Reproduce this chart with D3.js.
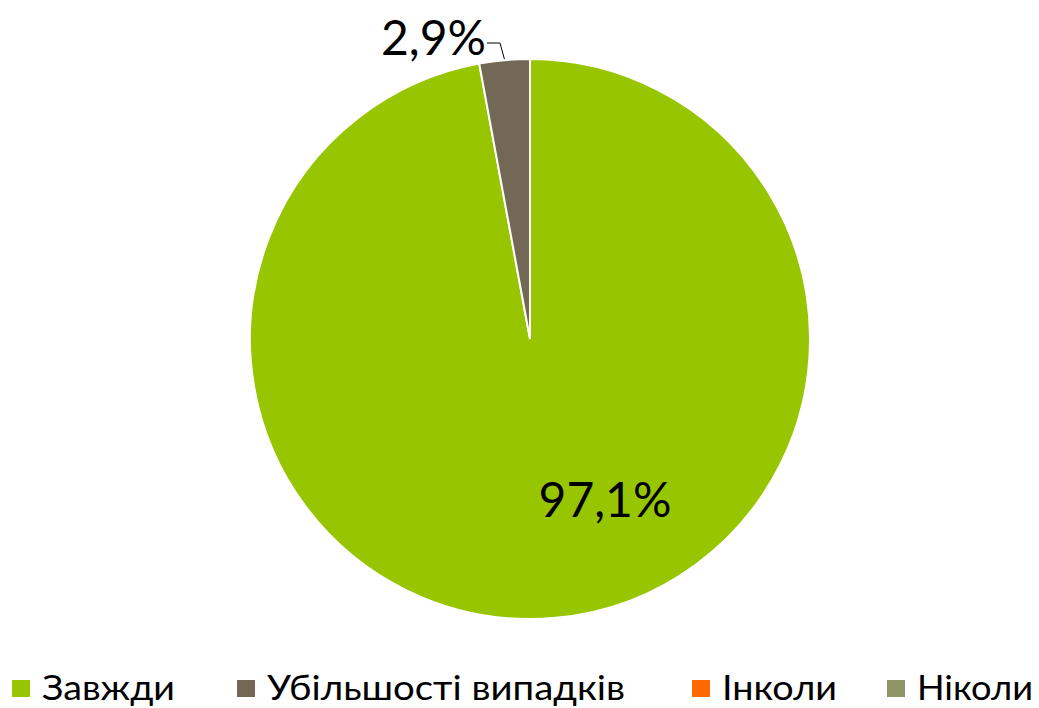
<!DOCTYPE html>
<html>
<head>
<meta charset="utf-8">
<script src="https://cdn.jsdelivr.net/npm/d3@7"></script>
<style>
  body { margin: 0; background: #fff; }
  svg { display: block; font-family: "Lato", "DejaVu Sans", sans-serif; }
</style>
</head>
<body>
<svg id="chart" width="1039" height="708"></svg>
<script>
// -- DATA --
const categories = ["Завжди", "Убільшості випадків", "Інколи", "Ніколи"];
const values = [97.1, 2.9, 0, 0];
const labels = ["97,1%", "2,9%", "", ""];
const colors = ["#97C500", "#736856", "#FF6A00", "#8F9467"];

const svg = d3.select("#chart");
const cx = 530, cy = 339, radius = 280;

const pie = d3.pie().sort(null).value(d => d.v);
const arcs = pie(categories.map((c, i) => ({ c: c, v: values[i], i: i })));
const arc = d3.arc().innerRadius(0).outerRadius(radius);

const g = svg.append("g").attr("transform", `translate(${cx},${cy})`);

g.selectAll("path")
  .data(arcs.filter(d => d.data.v > 0))
  .enter().append("path")
  .attr("d", arc)
  .attr("fill", d => colors[d.data.i])
  .attr("stroke", "#fff")
  .attr("stroke-width", 2);

// -- ПОДПИСИ --
// large slice: label inside (best-fit position, like the office chart)
g.append("text")
  .attr("x", 75)
  .attr("y", 159)
  .attr("text-anchor", "middle")
  .attr("dominant-baseline", "central")
  .attr("font-size", 48)
  .attr("fill", "#000")
  .text(labels[0]);

// small slice: label outside with leader line
const small = arcs[1];
const mid = (small.startAngle + small.endAngle) / 2;
const edge = [Math.sin(mid) * (radius + 1), -Math.cos(mid) * (radius + 1)];
const lx = -43, ly = -296;
g.append("path")
  .attr("d", `M${edge[0]},${edge[1]} L${lx + 13},${ly} L${lx},${ly}`)
  .attr("fill", "none")
  .attr("stroke", "#000")
  .attr("stroke-width", 1);
g.append("text")
  .attr("x", lx - 1)
  .attr("y", ly - 7)
  .attr("text-anchor", "end")
  .attr("dominant-baseline", "central")
  .attr("font-size", 48)
  .attr("fill", "#000")
  .text(labels[1]);

// -- ЛЕГЕНДА --
const legendX = [12, 237, 692, 887];
const legendW = [133, 358, 115, 116];
const legend = svg.selectAll(".legend_row")
  .data(categories)
  .enter().append("g")
  .attr("class", "legend_row")
  .attr("transform", (d, i) => `translate(${legendX[i]},0)`);

legend.append("rect")
  .attr("x", 0)
  .attr("y", 680)
  .attr("width", 18)
  .attr("height", 17)
  .attr("fill", (d, i) => colors[i]);

legend.append("text")
  .attr("x", 30)
  .attr("y", 700)
  .attr("font-size", 34)
  .attr("fill", "#000")
  .attr("textLength", (d, i) => legendW[i])
  .attr("lengthAdjust", "spacingAndGlyphs")
  .text(d => d);
</script>
</body>
</html>
